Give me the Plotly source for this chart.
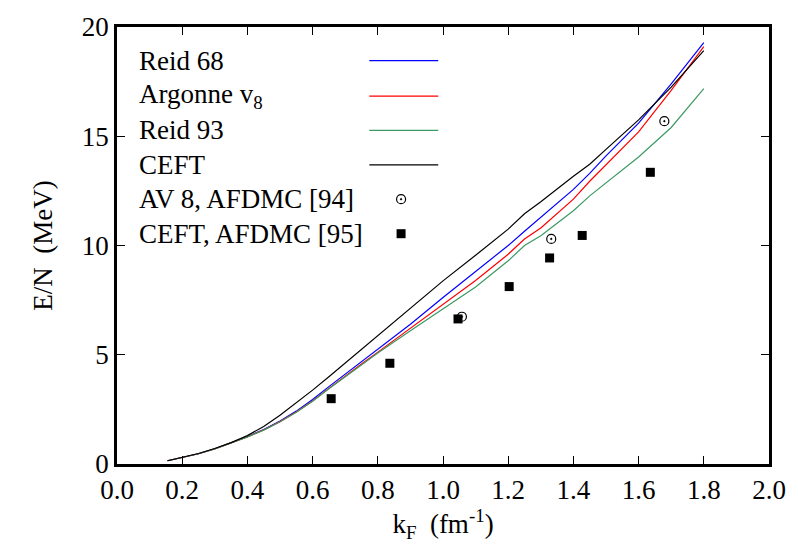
import plotly.graph_objects as go

kF = [0.155, 0.2, 0.25, 0.3, 0.35, 0.4, 0.45, 0.5, 0.55, 0.6, 0.65, 0.7, 0.75, 0.8, 0.9, 1.0,
      1.1, 1.2, 1.25, 1.3, 1.4, 1.45, 1.5, 1.6, 1.7, 1.8]
reid68 = [0.15, 0.29, 0.47, 0.70, 0.96, 1.25, 1.58, 1.97, 2.42, 2.95, 3.54, 4.12, 4.68, 5.25, 6.40, 7.62,
          8.8, 10.0, 10.65, 11.3, 12.57, 13.3, 14.1, 15.6, 17.4, 19.28]
argonne = [0.15, 0.29, 0.47, 0.69, 0.95, 1.24, 1.56, 1.94, 2.38, 2.88, 3.46, 4.03, 4.58, 5.12, 6.20, 7.31,
           8.4, 9.6, 10.3, 10.8, 12.12, 12.94, 13.7, 15.2, 17.1, 19.1]
reid93 = [0.15, 0.29, 0.47, 0.69, 0.95, 1.24, 1.55, 1.93, 2.37, 2.87, 3.44, 4.00, 4.55, 5.08, 6.10, 7.09,
          8.1, 9.3, 10.0, 10.45, 11.59, 12.27, 12.85, 14.05, 15.4, 17.18]
ceft = [0.15, 0.29, 0.48, 0.71, 0.98, 1.30, 1.72, 2.23, 2.80, 3.38, 3.99, 4.62, 5.26, 5.90, 7.14, 8.38,
        9.55, 10.75, 11.45, 12.0, 13.17, 13.72, 14.4, 15.75, 17.25, 18.92]

av8_k = [1.058, 1.332, 1.679]
av8_e = [6.74, 10.30, 15.69]
ceft_k = [0.657, 0.837, 1.046, 1.203, 1.327, 1.427, 1.636]
ceft_e = [2.99, 4.61, 6.64, 8.12, 9.43, 10.46, 13.35]

names = ["Reid 68", "Argonne v<sub>8</sub>", "Reid 93", "CEFT"]
colors = ["#0000ff", "#ff0000", "#3c9a64", "#000000"]
series = [reid68, argonne, reid93, ceft]
pt_names = ["AV 8, AFDMC [94]", "CEFT, AFDMC [95]"]

FONT = "Liberation Serif, Times New Roman, serif"
FS = 27

fig = go.Figure()
for n, c, s in zip(names, colors, series):
    fig.add_trace(go.Scatter(x=kF, y=s, mode="lines", name=n,
                             line=dict(color=c, width=1.2), showlegend=False))
fig.add_trace(go.Scatter(x=av8_k, y=av8_e, mode="markers", name=pt_names[0], showlegend=False,
                         marker=dict(symbol="circle-open-dot", size=9, color="black", line=dict(width=1.2))))
fig.add_trace(go.Scatter(x=ceft_k, y=ceft_e, mode="markers", name=pt_names[1], showlegend=False,
                         marker=dict(symbol="square", size=9, color="black")))

# custom gnuplot-style legend (text left, sample right)
row_y = [0.923, 0.842, 0.7635, 0.6847, 0.606, 0.527]
labels = names + pt_names
shapes = []
annotations = []
for i, lab in enumerate(labels):
    annotations.append(dict(x=0.03, y=row_y[i], xref="paper", yref="paper", text=lab,
                            showarrow=False, xanchor="left", yanchor="middle",
                            font=dict(family=FONT, size=FS, color="black")))
for i in range(4):
    shapes.append(dict(type="line", xref="paper", yref="paper", x0=0.387, x1=0.4927,
                       y0=row_y[i], y1=row_y[i], line=dict(color=colors[i], width=1.2)))
fig.add_trace(go.Scatter(x=[0.4357], y=[row_y[4]], xaxis="x2", yaxis="y2", mode="markers",
                         showlegend=False, hoverinfo="skip",
                         marker=dict(symbol="circle-open-dot", size=9, color="black", line=dict(width=1.2))))
fig.add_trace(go.Scatter(x=[0.4357], y=[row_y[5]], xaxis="x2", yaxis="y2", mode="markers",
                         showlegend=False, hoverinfo="skip",
                         marker=dict(symbol="square", size=9, color="black")))

axis_common = dict(showgrid=False, zeroline=False, showline=True, linecolor="black", linewidth=2.5,
                   mirror="ticks", ticks="inside", ticklen=8, tickcolor="black", tickwidth=1,
                   tickfont=dict(family=FONT, size=FS, color="black"))

fig.update_layout(
    width=798, height=554,
    margin=dict(l=117, r=20, t=20, b=90),
    paper_bgcolor="white", plot_bgcolor="white",
    font=dict(family=FONT, size=FS, color="black"),
    xaxis=dict(range=[0, 2.0], tick0=0, dtick=0.2, tickformat=".1f",
               title=dict(text="k<sub>F</sub>  (fm<sup>-1</sup>)", font=dict(family=FONT, size=FS, color="black"), standoff=8),
               **axis_common),
    yaxis=dict(range=[0, 20], tick0=0, dtick=5,
               title=dict(text="E/N  (MeV)", font=dict(family=FONT, size=FS, color="black"), standoff=22),
               **axis_common),
    xaxis2=dict(range=[0, 1], domain=[0, 1], overlaying="x", visible=False, fixedrange=True),
    yaxis2=dict(range=[0, 1], domain=[0, 1], overlaying="y", visible=False, fixedrange=True),
    shapes=shapes, annotations=annotations, showlegend=False,
)

fig.write_html("out.html")
